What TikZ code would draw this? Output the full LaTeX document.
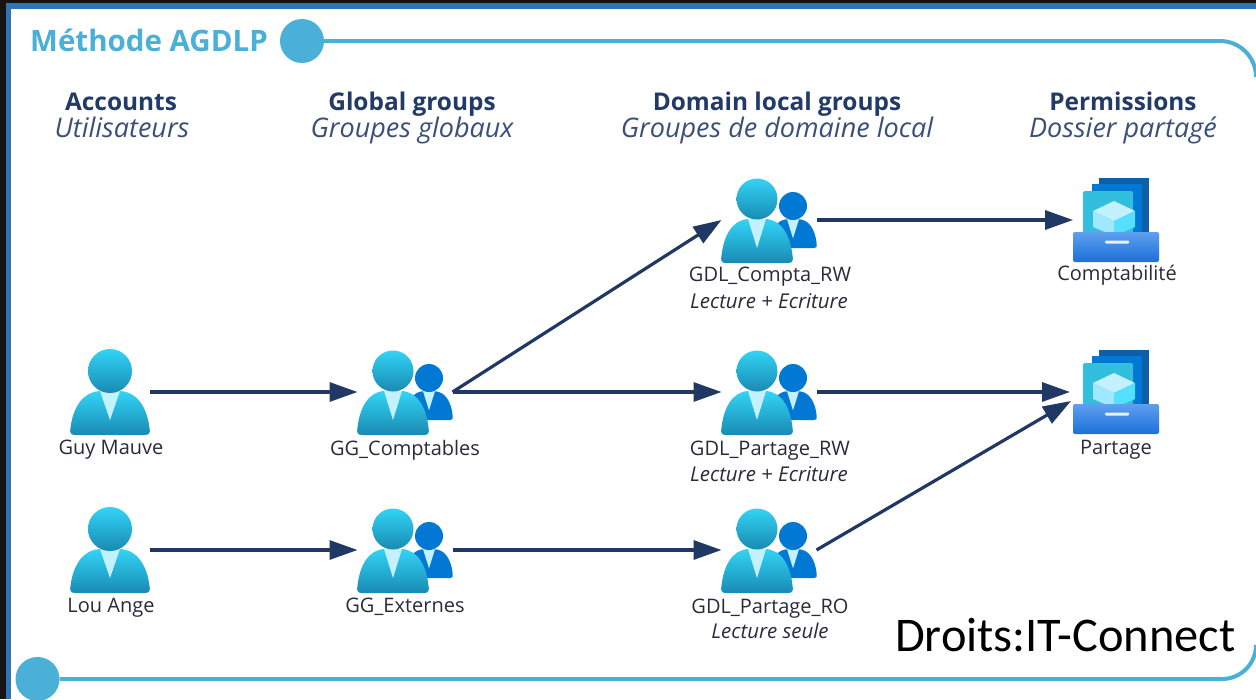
\documentclass[tikz,border=0pt]{standalone}
\usepackage{fontspec}
\setmainfont{Open Sans}
\newfontfamily\calfont{Carlito}
\usetikzlibrary{arrows.meta,shapes.geometric}
\definecolor{navy}{HTML}{1F3864}
\definecolor{sky}{HTML}{4AB0D8}
\definecolor{frameblue}{HTML}{2E75B6}
\definecolor{heading}{HTML}{223A68}
\definecolor{subtle}{HTML}{3A5078}
\definecolor{labtxt}{HTML}{2A2A3A}
\definecolor{ptop}{HTML}{32D4F5}
\definecolor{pbot}{HTML}{198AB3}
\definecolor{dtop}{HTML}{0078D4}
\definecolor{dbot}{HTML}{0078D4}
\definecolor{collar}{HTML}{C3F1FF}
\definecolor{fback}{HTML}{0F5EA8}
\definecolor{fmid}{HTML}{0078D4}
\definecolor{ftop}{HTML}{32BEDD}
\definecolor{ttop}{HTML}{5EA0EF}
\definecolor{tbot}{HTML}{1B6FD8}
\definecolor{cubeleft}{HTML}{A0E8FF}
\definecolor{cuberight}{HTML}{55E0FF}
\tikzset{
  conn/.style={draw=navy,line width=3.2pt,-{Triangle[length=28pt,width=19pt]}},
  box/.style={draw=none,inner sep=0pt,outer sep=0pt,minimum height=85pt},
  userbox/.style={box,minimum width=79pt},
  groupbox/.style={box,minimum width=95pt},
  filebox/.style={box,minimum width=86pt},
  rail/.style={draw=sky,line width=4pt},
  dot/.style={circle,fill=sky,draw=none,inner sep=0pt,minimum size=44pt},
  headtxt/.style={font=\fontsize{24.4}{26}\selectfont\bfseries,text=heading,inner sep=0pt,anchor=base},
  subtxt/.style={font=\fontsize{27}{29}\selectfont\itshape,text=subtle,inner sep=0pt,anchor=base},
  lab/.style={font=\fontsize{20}{22}\selectfont,text=labtxt,inner sep=0pt,anchor=base},
  note/.style={font=\fontsize{20.4}{22}\selectfont\itshape,text=labtxt,inner sep=0pt,anchor=base},
}
% x, y of head centre, xscale, yscale, head radius, top colour, bottom colour
\newcommand{\persondraw}[7]{%
  \begin{scope}[shift={(#1,#2)}]
    \begin{scope}[xscale=#3,yscale=#4]
      \shade[top color=#6,bottom color=#7] (-35,64) .. controls (-39.5,64) and (-40.5,61) .. (-39.5,57)
        .. controls (-37,36) and (-27,21) .. (-10,20) -- (10,20)
        .. controls (27,21) and (37,36) .. (39.5,57)
        .. controls (40.5,61) and (39.5,64) .. (35,64) -- cycle;
      \fill[collar] (-10,20) -- (10,20) -- (0,49) -- cycle;
    \end{scope}
    \shade[top color=#6,bottom color=#7] (0,0) circle (#5);
  \end{scope}}
\newcommand{\userdraw}[2]{\persondraw{#1}{#2}{1}{1}{22}{ptop}{pbot}}
\newcommand{\groupdraw}[2]{%
  \persondraw{\numexpr#1+36\relax}{\numexpr#2+7\relax}{.6}{.66}{14}{dtop}{dbot}%
  \persondraw{#1}{#2}{.9}{1}{20.5}{ptop}{pbot}}
\newcommand{\filedraw}[2]{%
  \begin{scope}[shift={(#1,#2)}]
    \fill[fback] (-17,-42) rectangle (33,20);
    \fill[fmid] (-24,-36) rectangle (26,20);
    \fill[ftop,rounded corners=1.5pt] (-33,-29) rectangle (17,20);
    \fill[collar] (-2,-19) -- (19,-9) -- (-2,1) -- (-23,-9) -- cycle;
    \fill[cubeleft] (-23,-9) -- (-2,1) -- (-2,16) -- (-23,7) -- cycle;
    \fill[cuberight] (19,-9) -- (-2,1) -- (-2,16) -- (19,7) -- cycle;
    \shade[top color=ttop,bottom color=tbot,rounded corners=2pt] (-43,12) rectangle (43,42);
    \fill[white!85!ttop,rounded corners=1pt] (-11,20.5) rectangle (13,23.5);
  \end{scope}}
\begin{document}
\begin{tikzpicture}[x=1pt,y=-1pt]
\useasboundingbox (0,0) rectangle (1256,699);
\fill[black!92] (0,0) rectangle (1256,699);
\fill[frameblue] (6,3) rectangle (1256,699);
\fill[white] (11,9) rectangle (1256,699);
% rails
\node[dot] (topdot) at (302,41) {};
\node[dot] (botdot) at (37.5,679) {};
\draw[rail] (topdot.east) -- (1220,41) arc[start angle=-90,end angle=0,radius=36];
\draw[rail] (botdot.east) -- (1222,679) arc[start angle=90,end angle=0,radius=34];
\node[anchor=base west,inner sep=0pt,text=sky,font=\fontsize{29.5}{32}\selectfont\bfseries] (title) at (30,51) {Méthode AGDLP};
% column headers
\node[headtxt] (h1) at (121,110) {Accounts};
\node[subtxt] (s1) at (122,137) {Utilisateurs};
\node[headtxt] (h2) at (412,110) {Global groups};
\node[subtxt] (s2) at (412,137) {Groupes globaux};
\node[headtxt] (h3) at (777,110) {Domain local groups};
\node[subtxt] (s3) at (777,137) {Groupes de domaine local};
\node[headtxt] (h4) at (1123,110) {Permissions};
\node[subtxt] (s4) at (1123,137) {Dossier partagé};
% icon boxes
\node[userbox] (u1) at (110,392) {};
\node[userbox] (u2) at (110,550) {};
\node[groupbox] (g1) at (405,392) {};
\node[groupbox] (g2) at (405,550) {};
\node[groupbox] (d1) at (769,220) {};
\node[groupbox] (d2) at (769,392) {};
\node[groupbox] (d3) at (769,550) {};
\node[filebox] (f1) at (1116,220) {};
\node[filebox] (f2) at (1116,392) {};
\coordinate (f2low) at (1071,401);
\coordinate (f2mid) at (1070,392);
% icons
\userdraw{110}{371}
\userdraw{110}{529}
\groupdraw{393}{371}
\groupdraw{393}{529}
\groupdraw{757}{199}
\groupdraw{757}{371}
\groupdraw{757}{529}
\filedraw{1116}{220}
\filedraw{1116}{392}
% labels
\node[lab] (l1) at (111,454.5) {Guy Mauve};
\node[lab] (l2) at (111,612) {Lou Ange};
\node[lab] (l3) at (405,455) {GG\_Comptables};
\node[lab] (l4) at (405,612) {GG\_Externes};
\node[lab] (l5) at (770,281.5) {GDL\_Compta\_RW};
\node[note] (n5) at (769,308) {Lecture + Ecriture};
\node[lab] (l6) at (770,455) {GDL\_Partage\_RW};
\node[note] (n6) at (769,481) {Lecture + Ecriture};
\node[lab] (l7) at (770,613) {GDL\_Partage\_RO};
\node[note] (n7) at (770,638) {Lecture seule};
\node[lab] (l8) at (1117,280) {Comptabilité};
\node[lab] (l9) at (1116,454) {Partage};
\node[anchor=base west,inner sep=0pt,text=black,font=\calfont\fontsize{48.4}{50}\selectfont] (credit) at (895,651) {Droits:IT-Connect};
% connectors
\draw[conn] (u1.east) -- (g1.west);
\draw[conn] (u2.east) -- (g2.west);
\draw[conn] (g1.east) -- (d1.west);
\draw[conn] (g1.east) -- (d2.west);
\draw[conn] (g2.east) -- (d3.west);
\draw[conn] (d1.east) -- (f1.west);
\draw[conn] (d2.east) -- (f2mid);
\draw[conn] (d3.east) -- (f2low);
\end{tikzpicture}
\end{document}
